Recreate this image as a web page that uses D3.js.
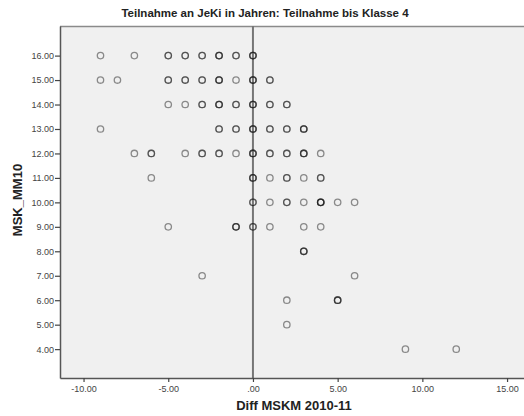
<!DOCTYPE html>
<html>
<head>
<meta charset="utf-8">
<script src="https://cdn.jsdelivr.net/npm/d3@7"></script>
<style>
	body{margin:0;background:#fff;}
	svg text{font-family:"Liberation Sans",Arial,sans-serif;}
</style>
</head>
<body>
<div id="chart"></div>
<script>
// data: one entry per distinct point, count = how many cases overlap
var diff  = [-9,-7,-5,-4,-3,-2,-1,0,
	-9,-8,-5,-4,-3,-2,-1,0,1,
	-5,-4,-3,-2,-1,0,1,2,
	-9,-2,-1,0,1,2,3,
	-7,-6,-4,-3,-2,-1,0,1,2,3,4,
	-6,0,1,2,3,4,
	0,1,2,3,4,5,6,
	-5,-1,0,1,3,4,
	3,
	-3,6,
	2,5,
	2,
	9,12];
var msk   = [16,16,16,16,16,16,16,16,
	15,15,15,15,15,15,15,15,15,
	14,14,14,14,14,14,14,14,
	13,13,13,13,13,13,13,
	12,12,12,12,12,12,12,12,12,12,12,
	11,11,11,11,11,11,
	10,10,10,10,10,10,10,
	9,9,9,9,9,9,
	8,
	7,7,
	6,6,
	5,
	4,4];
var count = [1,1,2,2,2,3,2,3,
	1,1,2,2,2,3,1,3,2,
	1,1,2,3,2,3,2,2,
	1,2,2,3,2,2,3,
	1,2,1,2,2,1,3,2,2,3,1,
	1,3,1,2,1,2,
	2,1,2,1,4,1,1,
	1,3,2,1,1,1,
	3,
	1,1,
	1,3,
	1,
	1,1];
var xTicks = [-10,-5,0,5,10,15];
var yTicks = [4,5,6,7,8,9,10,11,12,13,14,15,16];

var W = 524, H = 416;
var m = {top:26, right:0, bottom:38, left:60};

var svg = d3.select("#chart").append("svg")
	.attr("width",W)
	.attr("height",H);

var x = d3.scaleLinear().domain([-11.39,16.0]).range([m.left,W-m.right]);
var y = d3.scaleLinear().domain([2.82,17.21]).range([H-m.bottom,m.top]);

var fmt = function(v){
	var s = d3.format(".2f")(v);
	return s.replace(/^0\./,".").replace("−","-");
};

// plot background
svg.append("rect")
	.attr("x",m.left).attr("y",m.top)
	.attr("width",W-m.right-m.left).attr("height",H-m.bottom-m.top)
	.attr("fill","#f0f0f0");

svg.append("line")
	.attr("x1",m.left).attr("x2",W)
	.attr("y1",m.top+0.5).attr("y2",m.top+0.5)
	.attr("stroke","#8a8a8a").attr("stroke-width",1.5);

// reference line at 0
svg.append("line")
	.attr("x1",x(0)).attr("x2",x(0))
	.attr("y1",m.top).attr("y2",H-m.bottom)
	.attr("stroke","#767676").attr("stroke-width",2);

var xAxis = svg.append("g")
	.attr("transform","translate(0,"+(H-m.bottom)+")")
	.call(d3.axisBottom(x).tickValues(xTicks).tickFormat(fmt).tickSize(4).tickSizeOuter(0));
var yAxis = svg.append("g")
	.attr("transform","translate("+m.left+",0)")
	.call(d3.axisLeft(y).tickValues(yTicks).tickFormat(fmt).tickSize(5).tickSizeOuter(0));

[xAxis,yAxis].forEach(function(a){
	a.select(".domain").attr("stroke","#555").attr("stroke-width",1.5);
	a.selectAll(".tick line").attr("stroke","#444").attr("stroke-width",1.2);
	a.selectAll(".tick text").attr("fill","#444").style("font-size","9px");
});
yAxis.selectAll(".tick text").attr("x",-6);
xAxis.selectAll(".tick text").attr("y",8);

// points; overlapping cases make the ring darker
var pts = diff.map(function(d,i){return {x:d,y:msk[i],n:count[i]};});
var rings = [];
pts.forEach(function(p){ for(var k=0;k<p.n;k++) rings.push(p); });

svg.append("g").selectAll("circle")
	.data(rings)
	.join("circle")
	.attr("cx",function(d){return x(d.x);})
	.attr("cy",function(d){return y(d.y);})
	.attr("r",3.2)
	.attr("fill","none")
	.attr("stroke","#1a1a1a")
	.attr("stroke-opacity",0.48)
	.attr("stroke-width",1.3);

// texts
svg.append("text")
	.attr("x",265).attr("y",17)
	.attr("text-anchor","middle")
	.style("font-size","11.5px").style("font-weight","bold")
	.attr("fill","#222")
	.text("Teilnahme an JeKi in Jahren: Teilnahme bis Klasse 4");

svg.append("text")
	.attr("x",294).attr("y",410)
	.attr("text-anchor","middle")
	.style("font-size","13px").style("font-weight","bold")
	.attr("fill","#222")
	.text("Diff MSKM 2010-11");

svg.append("text")
	.attr("transform","translate(22,200) rotate(-90)")
	.attr("text-anchor","middle")
	.style("font-size","13px").style("font-weight","bold")
	.attr("fill","#222")
	.text("MSK_MM10");
</script>
</body>
</html>
